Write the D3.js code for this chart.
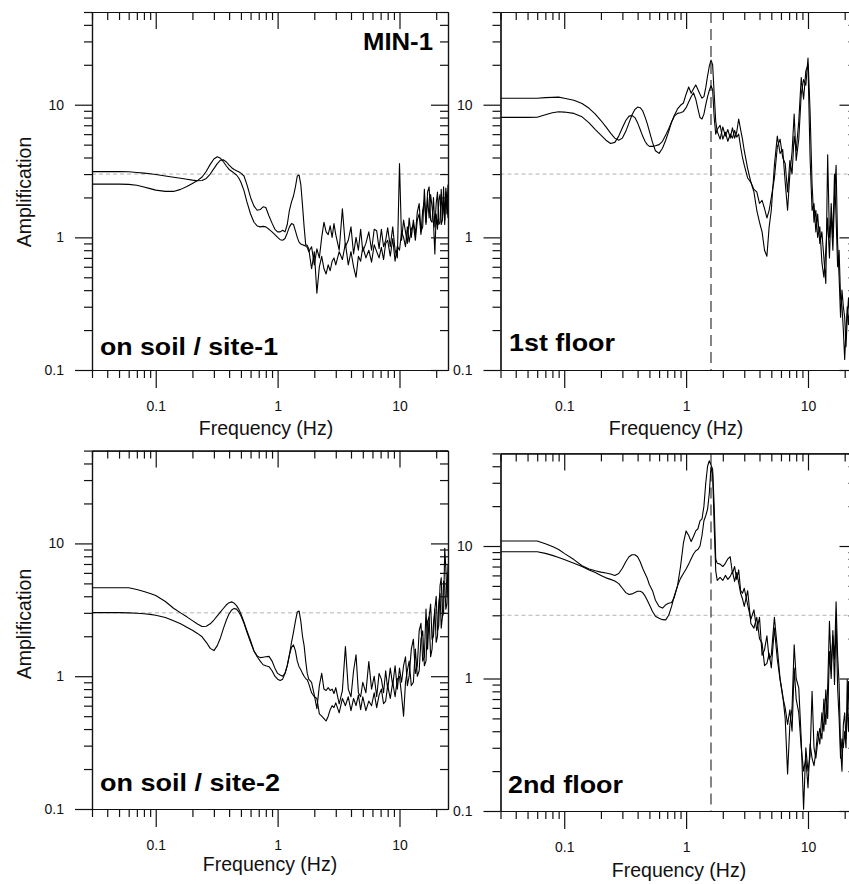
<!DOCTYPE html>
<html>
<head>
<meta charset="utf-8">
<script src="https://cdn.jsdelivr.net/npm/d3@7"></script>
<style>
  body { margin: 0; background: #fff; }
  svg { display: block; }
</style>
</head>
<body>
<svg id="chart"></svg>
<script>
// frequency grid (Hz) shared by every spectral ratio curve
const freq = [
  0.03, 0.04, 0.05, 0.06, 0.07, 0.08, 0.09, 0.1, 0.12, 0.14,
  0.16, 0.18, 0.2, 0.22, 0.24, 0.26, 0.28, 0.3, 0.32, 0.34,
  0.36, 0.38, 0.4, 0.42, 0.44, 0.46, 0.48, 0.5, 0.53, 0.56,
  0.6, 0.64, 0.68, 0.72, 0.76, 0.8, 0.85, 0.9, 0.95, 1.0,
  1.05, 1.1, 1.15, 1.2, 1.25, 1.3, 1.35, 1.4, 1.45, 1.5,
  1.55, 1.6, 1.65, 1.7, 1.75, 1.8, 1.9, 2.0, 2.1, 2.2,
  2.3, 2.4, 2.5, 2.6, 2.7, 2.8, 2.9, 3.0, 3.2, 3.4,
  3.6, 3.8, 4.0, 4.2, 4.4, 4.6, 4.8, 5.0, 5.3, 5.6,
  5.9, 6.2, 6.5, 6.8, 7.1, 7.4, 7.7, 8.0, 8.4, 8.8,
  9.2, 9.6, 10, 10.4, 10.8, 11.2, 11.6, 12, 12.5, 13,
  13.5, 14, 14.5, 15, 15.5, 16, 16.5, 17, 17.5, 18,
  18.5, 19, 19.5, 20, 20.5, 21, 21.5, 22, 22.5, 23,
  23.5, 24, 24.5, 25
];

// on soil / site-1
const tl1 = [
  3.13, 3.13, 3.13, 3.12, 3.08, 3.05, 3.02, 2.98, 2.9, 2.84,
  2.79, 2.74, 2.7, 2.67, 2.68, 2.78, 3.0, 3.3, 3.6, 3.82,
  3.84, 3.7, 3.5, 3.35, 3.25, 3.18, 3.12, 3.05, 2.9, 2.5,
  2.0, 1.72, 1.6, 1.62, 1.7, 1.68, 1.45, 1.28, 1.15, 1.1,
  1.1, 1.13, 1.1, 1.25, 1.6, 1.85, 2.05, 2.4, 2.9, 2.95,
  2.5, 1.75, 1.2, 0.88, 0.87, 0.82, 0.58, 0.78, 0.38, 0.6,
  0.72, 0.58, 0.53, 0.62, 0.56, 0.66, 0.7, 0.62, 0.78, 0.68,
  0.9, 0.62, 0.78, 0.6, 0.5, 0.72, 0.66, 0.85, 0.7, 0.8,
  0.65, 0.88, 0.78, 0.7, 0.84, 0.68, 0.9, 0.95, 0.72, 0.98,
  0.66, 0.86, 0.8, 1.1, 1.0, 0.85, 1.2, 0.92, 1.15, 1.25,
  0.95, 1.35, 1.5, 1.05, 1.6, 1.9, 1.25, 2.0, 1.4, 2.1,
  1.7, 1.3, 0.75, 1.5, 1.15, 1.9, 2.1, 1.25, 1.35, 2.0,
  1.25, 2.35, 1.9, 1.4
];
const tl2 = [
  2.52, 2.52, 2.52, 2.51, 2.47, 2.4, 2.33, 2.27, 2.22, 2.22,
  2.3, 2.42, 2.55, 2.68, 2.85, 3.15, 3.55, 3.9, 4.05, 3.95,
  3.7, 3.45, 3.25, 3.15, 3.05, 2.95, 2.8, 2.6, 2.25, 1.85,
  1.5, 1.3, 1.22, 1.2, 1.21, 1.2, 1.15, 1.1, 1.05, 1.0,
  0.96, 0.95, 0.98, 1.08, 1.2, 1.27, 1.25, 1.12, 1.0, 0.92,
  0.89, 0.88, 0.87, 0.86, 0.84, 0.78, 0.85, 0.62, 0.82, 0.7,
  1.0, 1.3, 1.1, 1.05, 1.22, 1.0, 1.27, 1.05, 0.8, 1.64,
  0.85, 0.95, 1.2, 0.75, 1.0, 0.8, 1.15, 0.78, 0.9, 1.1,
  0.8, 1.15, 1.12, 0.82, 1.15, 0.85, 0.95, 1.18, 0.85, 1.2,
  0.8, 0.7, 3.6, 0.95, 1.35, 1.1, 0.9, 1.4, 1.0, 1.35,
  1.05, 1.55, 1.8, 1.1, 1.2, 2.3, 1.3, 2.2, 2.4, 1.35,
  1.3, 2.0, 1.2, 1.8, 2.2, 1.25, 1.3, 2.3, 1.4, 2.4,
  1.35, 2.2, 1.5, 2.5
];

// 1st floor
const tr1 = [
  11.2, 11.2, 11.2, 11.2, 11.3, 11.35, 11.4, 11.2, 10.8, 10.2,
  9.4, 8.5, 7.6, 6.8, 6.1, 5.6, 5.4, 5.6, 6.3, 7.3,
  8.4, 9.2, 9.6, 9.5, 9.0, 8.1, 7.2, 6.3, 5.2, 4.5,
  4.3, 4.7, 5.4, 6.3, 7.4, 8.3, 9.3, 9.9, 10.3, 12.0,
  13.6, 12.2, 13.2, 14.1, 13.0, 12.0, 11.2, 11.5, 13.5, 16.5,
  19.5, 21.7, 20.0, 12.0, 7.5, 6.3, 5.5, 6.8, 5.8, 6.5,
  5.6, 6.7, 5.6, 6.2, 7.8, 6.5, 5.5, 4.5, 3.3, 2.6,
  2.2, 1.6, 1.3, 1.1, 0.8, 0.72, 1.2, 1.6, 3.5, 5.8,
  4.3, 4.6, 2.6, 1.6, 3.0, 4.4, 8.5, 3.8, 5.5, 12.0,
  15.5, 14.0, 22.5, 9.0, 2.5, 1.3, 1.6, 1.0, 1.2, 0.65,
  0.5, 0.8, 1.4, 0.7, 1.8, 1.0, 3.0, 1.4, 0.6, 0.8,
  0.35, 0.3, 0.2, 0.12, 0.2, 0.3, 0.22, 0.3, 0.25, 0.3,
  0.22, 0.28, 0.25, 0.3
];
const tr2 = [
  8.03, 8.03, 8.03, 8.05, 8.4, 8.7, 8.85, 8.8, 8.6, 8.1,
  7.3, 6.5, 5.9, 5.4, 5.1, 5.2, 5.8, 6.7, 7.6, 8.2,
  8.3, 8.0, 7.3, 6.5, 5.8, 5.3, 5.0, 4.85, 4.85, 4.9,
  5.0, 5.3, 5.9, 6.6, 7.4, 8.2, 8.6, 8.7, 8.9, 9.5,
  10.5, 11.5, 12.3, 11.0, 9.3, 8.0, 7.8, 8.5, 10.0, 11.5,
  12.8, 13.9, 13.0, 8.0, 6.0, 6.5, 7.0, 5.5, 6.2, 5.3,
  6.0, 5.6, 6.4, 5.7, 6.0, 4.8, 4.0, 3.5, 2.8, 2.6,
  2.3, 2.2, 1.8, 1.9, 1.65, 1.4, 1.6, 2.0, 2.8, 4.8,
  5.5, 4.0, 3.6, 2.2, 3.8, 3.0, 5.8, 4.5, 7.5, 16.0,
  11.0, 18.0, 20.0, 4.0, 1.6, 1.8, 1.1, 1.5, 0.9, 1.1,
  0.7, 0.45, 4.2, 1.0, 1.4, 0.8, 2.0, 3.5, 0.9, 0.5,
  0.25, 0.4, 0.3, 0.25, 0.15, 0.25, 0.35, 0.25, 0.3, 0.2,
  0.3, 0.25, 0.3, 0.28
];

// on soil / site-2
const bl1 = [
  4.64, 4.64, 4.64, 4.64, 4.5, 4.35, 4.2, 4.05, 3.65, 3.25,
  3.0, 2.8, 2.62, 2.47, 2.37, 2.38, 2.48, 2.65, 2.85, 3.05,
  3.25, 3.45, 3.58, 3.63, 3.55, 3.4, 3.2, 2.95, 2.55, 2.2,
  1.85, 1.55, 1.42, 1.38, 1.39, 1.4, 1.41, 1.3, 1.15, 1.05,
  1.02, 1.0, 1.05, 1.2, 1.45, 1.8, 2.15, 2.6, 3.05, 3.1,
  2.6, 2.0, 1.7, 1.3, 1.05, 0.95, 0.9, 0.72, 0.57, 0.85,
  1.05, 0.8, 0.78, 0.82, 0.78, 0.8, 0.74, 0.82, 0.62, 0.78,
  1.67, 0.8, 0.7, 1.1, 1.45, 0.75, 0.7, 0.9, 0.75, 1.29,
  0.8, 1.0, 0.7, 1.05, 0.95, 0.75, 1.1, 0.8, 1.15, 0.85,
  1.2, 0.8, 1.15, 0.9, 1.2, 1.4, 0.85, 1.0, 1.6, 1.9,
  1.05, 1.2, 2.2, 2.5, 1.3, 1.4, 3.2, 1.6, 2.8, 3.5,
  1.9, 2.0, 3.2, 4.0, 2.2, 2.4, 4.8, 5.5, 2.8, 3.0,
  9.2, 6.5, 4.0, 6.0
];
const bl2 = [
  3.01, 3.01, 3.01, 3.0, 2.98, 2.95, 2.92, 2.88, 2.77, 2.62,
  2.48, 2.34, 2.22, 2.1, 1.98, 1.8, 1.62, 1.56, 1.7, 1.95,
  2.3, 2.65, 2.95, 3.15, 3.24, 3.2, 3.05, 2.85, 2.5, 2.15,
  1.8, 1.55, 1.4, 1.3, 1.22, 1.2, 1.18, 1.1, 1.0, 0.95,
  0.93, 0.95, 1.05, 1.2, 1.45, 1.65, 1.72, 1.55, 1.3, 1.18,
  1.12, 1.05, 1.0, 0.96, 0.94, 0.88, 0.75, 0.7, 0.68, 0.52,
  0.5, 0.48, 0.46, 0.5, 0.56, 0.6, 0.58, 0.63, 0.53, 0.68,
  0.6, 0.7, 0.55, 0.68, 0.6, 0.72, 0.56, 0.7, 0.55, 0.65,
  0.6, 0.75, 0.58, 0.72, 0.8, 0.62, 0.65, 0.85, 0.68, 0.9,
  0.7, 0.95, 1.0, 0.72, 0.5, 0.9, 1.1, 1.3, 0.85, 0.9,
  1.6, 1.0, 1.1, 1.9, 2.2, 1.2, 1.3, 2.6, 2.8, 1.4,
  1.6, 2.5, 3.2, 1.8, 2.0, 3.6, 4.2, 2.3, 2.8, 5.2,
  5.0, 3.2, 3.5, 7.0
];

// 2nd floor
const br1 = [
  10.9, 10.9, 10.9, 10.9, 10.4, 9.9, 9.4, 8.8, 7.9, 7.1,
  6.7, 6.5, 6.35, 6.25, 6.15, 6.0, 6.2, 6.8, 7.6, 8.3,
  8.6, 8.6, 8.3, 7.6, 6.8, 6.2, 5.7, 5.1, 4.6, 3.9,
  3.5, 3.4, 3.6, 3.7, 3.75, 4.1, 5.0, 7.0, 10.5, 13.0,
  12.0, 10.8, 11.8, 13.0, 13.5, 15.5, 16.0, 20.0, 30.0, 40.0,
  44.0, 41.0, 38.0, 20.0, 8.0, 7.4, 7.3, 7.0, 7.4, 8.0,
  8.3, 6.2, 7.0, 5.6, 6.6, 4.6, 4.4, 4.8, 3.6, 2.8,
  3.3, 2.3, 2.9, 1.5, 1.65, 2.1, 1.4, 1.5, 2.9, 1.7,
  1.0, 0.75, 0.5, 0.19, 0.45, 0.6, 1.8, 1.0, 0.85, 0.35,
  0.103, 0.3, 0.2, 0.26, 0.8, 0.3, 0.25, 0.33, 0.42, 0.35,
  0.7, 0.45, 0.85, 2.7, 1.2, 2.1, 1.4, 3.8, 1.5, 0.9,
  0.3, 0.2, 0.45, 0.55, 0.35, 0.5, 0.95, 0.5, 0.7, 0.4,
  0.6, 0.5, 0.7, 0.5
];
const br2 = [
  9.06, 9.06, 9.06, 9.06, 8.8, 8.5, 8.2, 7.9, 7.4, 7.0,
  6.6, 6.3, 6.0, 5.75, 5.6, 5.45, 5.2, 4.8, 4.45, 4.3,
  4.35, 4.45, 4.55, 4.55, 4.45, 4.2, 3.9, 3.6, 3.2, 2.95,
  2.85, 2.78, 2.77, 3.0, 3.5, 4.2, 5.0, 5.7, 6.2, 6.7,
  7.3, 8.0, 8.7, 9.2, 9.4, 10.0, 12.0, 15.5, 17.0, 19.0,
  25.0, 39.6, 35.0, 14.0, 6.5, 5.5, 5.8, 5.5, 6.0, 5.6,
  5.9, 6.4, 5.4, 6.3, 5.3, 4.4, 4.0, 3.5, 4.6, 2.6,
  2.4, 2.9, 2.0, 1.85, 1.25, 1.3, 1.55, 1.2, 2.4, 1.4,
  0.98, 0.73, 0.6, 0.45, 0.58, 0.4, 1.2, 0.7, 0.55, 0.3,
  0.2, 0.25, 0.15, 0.32, 0.25, 0.22, 0.28, 0.4, 0.32, 0.55,
  0.4, 0.82, 0.5, 1.6, 1.0, 2.3, 0.9, 2.8, 0.85, 0.5,
  0.25, 0.35, 0.3, 0.4, 0.3, 0.98, 0.4, 0.6, 0.5, 0.8,
  0.45, 0.6, 0.5, 0.7
];

const xMajor = [0.1, 1, 10];
const xMinor = [0.03, 0.04, 0.05, 0.06, 0.07, 0.08, 0.09, 0.2, 0.3, 0.4, 0.5, 0.6, 0.7, 0.8, 0.9,
                2, 3, 4, 5, 6, 7, 8, 9, 20];
const yMajor = [0.1, 1, 10];
const yMinor = [0.2, 0.3, 0.4, 0.5, 0.6, 0.7, 0.8, 0.9, 2, 3, 4, 5, 6, 7, 8, 9, 20, 30, 40, 50];
const refLevel = 3;       // horizontal dashed level
const buildingFreq = 1.6; // vertical dashed line on floor panels

const FONT = '"Liberation Sans", Arial, Helvetica, sans-serif';
const W = 849, H = 884;
const panelW = 356;

const svg = d3.select("#chart").attr("width", W).attr("height", H);

const panels = [
  {id: "tl", left: 92, top: 12, bottom: 370, series: [tl1, tl2], title: "on soil / site-1",
   tx: 100, ty: 355, tw: 178, ylab: 192, fx: 266, fy: 435},
  {id: "tr", left: 500.5, top: 12, bottom: 370, series: [tr1, tr2], title: "1st floor",
   tx: 509, ty: 351, tw: 106, marker: true, fx: 676, fy: 435},
  {id: "bl", left: 92, top: 450.6, bottom: 809, series: [bl1, bl2], title: "on soil / site-2",
   tx: 100, ty: 791, tw: 180, ylab: 624, fx: 270, fy: 871},
  {id: "br", left: 500.5, top: 453.4, bottom: 811, series: [br1, br2], title: "2nd floor",
   tx: 508, ty: 793, tw: 115, marker: true, fx: 679, fy: 877}
];

function styleAxis(sel) {
  sel.attr("font-family", FONT).attr("font-size", 14);
  sel.select(".domain").attr("stroke", "#111").attr("stroke-width", 1.2);
  sel.selectAll(".tick line").attr("stroke", "#111").attr("stroke-width", 1.2);
  sel.selectAll(".tick text").attr("fill", "#111");
}

panels.forEach(p => {
  const x = d3.scaleLog().domain([0.03, 25]).range([p.left, p.left + panelW]);
  const y = d3.scaleLog().domain([0.1, 50]).range([p.bottom, p.top]);
  const g = svg.append("g");

  g.append("clipPath").attr("id", "clip-" + p.id)
    .append("rect")
    .attr("x", x(0.03)).attr("y", y(50))
    .attr("width", x(25) - x(0.03)).attr("height", y(0.1) - y(50));

  // reference amplification level
  g.append("line")
    .attr("x1", x(0.03)).attr("x2", x(25))
    .attr("y1", y(refLevel)).attr("y2", y(refLevel))
    .attr("stroke", "#b4b4b4").attr("stroke-width", 1)
    .attr("stroke-dasharray", "4,3");

  if (p.marker) {
    g.append("line")
      .attr("x1", x(buildingFreq)).attr("x2", x(buildingFreq))
      .attr("y1", y(50)).attr("y2", y(0.1))
      .attr("stroke", "#444").attr("stroke-width", 1.3)
      .attr("stroke-dasharray", "11,6");
  }

  const line = d3.line()
    .x((d, i) => x(freq[i]))
    .y(d => y(d));

  g.append("g").attr("clip-path", `url(#clip-${p.id})`)
    .selectAll("path")
    .data(p.series)
    .join("path")
    .attr("d", line)
    .attr("fill", "none")
    .attr("stroke", "#000")
    .attr("stroke-width", 1.1)
    .attr("stroke-linejoin", "round");

  // bottom axis (outward ticks, labels)
  g.append("g").attr("transform", `translate(0,${p.bottom})`)
    .call(d3.axisBottom(x).tickValues(xMajor).tickSize(18).tickSizeOuter(0)
      .tickPadding(13).tickFormat(d => String(d)))
    .call(styleAxis);
  g.append("g").attr("transform", `translate(0,${p.bottom})`)
    .call(d3.axisBottom(x).tickValues(xMinor).tickSize(8).tickSizeOuter(0).tickFormat(""))
    .call(styleAxis);

  // top axis (inward ticks)
  g.append("g").attr("transform", `translate(0,${p.top})`)
    .call(d3.axisBottom(x).tickValues(xMajor).tickSize(17).tickSizeOuter(0).tickFormat(""))
    .call(styleAxis);
  g.append("g").attr("transform", `translate(0,${p.top})`)
    .call(d3.axisBottom(x).tickValues(xMinor).tickSize(8).tickSizeOuter(0).tickFormat(""))
    .call(styleAxis);

  // left axis (outward ticks, labels)
  g.append("g").attr("transform", `translate(${p.left},0)`)
    .call(d3.axisLeft(y).tickValues(yMajor).tickSize(17).tickSizeOuter(0)
      .tickPadding(11).tickFormat(d => String(d)))
    .call(styleAxis);
  g.append("g").attr("transform", `translate(${p.left},0)`)
    .call(d3.axisLeft(y).tickValues(yMinor).tickSize(8).tickSizeOuter(0).tickFormat(""))
    .call(styleAxis);

  // right axis (inward ticks)
  g.append("g").attr("transform", `translate(${p.left + panelW},0)`)
    .call(d3.axisLeft(y).tickValues(yMajor).tickSize(17).tickSizeOuter(0).tickFormat(""))
    .call(styleAxis);
  g.append("g").attr("transform", `translate(${p.left + panelW},0)`)
    .call(d3.axisLeft(y).tickValues(yMinor).tickSize(8).tickSizeOuter(0).tickFormat(""))
    .call(styleAxis);

  // titles
  g.append("text")
    .attr("x", p.fx).attr("y", p.fy)
    .attr("text-anchor", "middle")
    .attr("font-family", FONT).attr("font-size", 19.5).attr("fill", "#111")
    .text("Frequency (Hz)");

  if (p.ylab) {
    g.append("text")
      .attr("transform", `translate(31,${p.ylab}) rotate(-90)`)
      .attr("text-anchor", "middle")
      .attr("font-family", FONT).attr("font-size", 19.5).attr("fill", "#111")
      .text("Amplification");
  }

  g.append("text")
    .attr("x", p.tx).attr("y", p.ty)
    .attr("font-family", FONT).attr("font-weight", "bold")
    .attr("font-size", 24.5).attr("fill", "#000")
    .attr("textLength", p.tw).attr("lengthAdjust", "spacingAndGlyphs")
    .text(p.title);
});

svg.append("text")
  .attr("x", 363).attr("y", 50)
  .attr("font-family", FONT).attr("font-weight", "bold")
  .attr("font-size", 23).attr("fill", "#000")
  .attr("textLength", 70).attr("lengthAdjust", "spacingAndGlyphs")
  .text("MIN-1");
</script>
</body>
</html>
